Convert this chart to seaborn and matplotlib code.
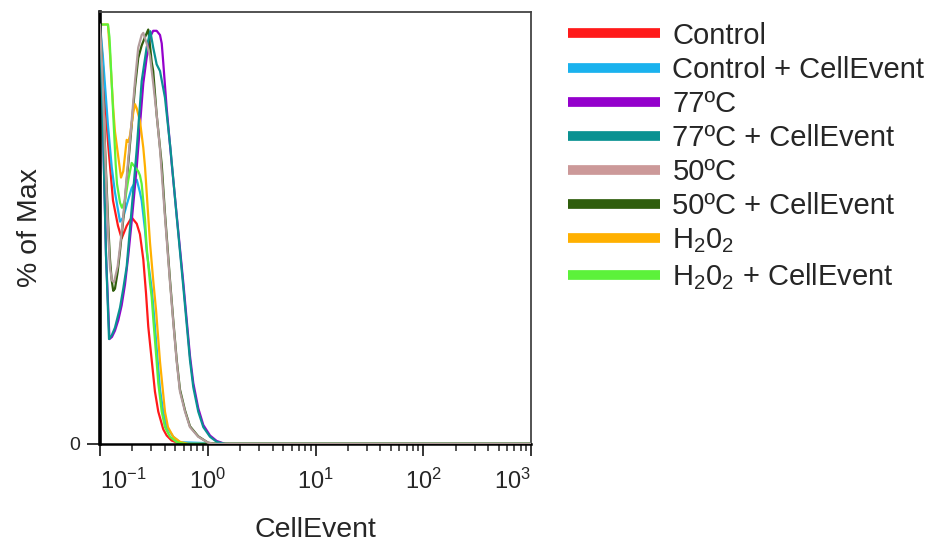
import numpy as np
import pandas as pd
import seaborn as sns
import matplotlib
matplotlib.use("Agg")
import matplotlib.pyplot as plt
import matplotlib.ticker as mticker
from matplotlib.colors import to_hex

sns.set_style("white")
plt.rcParams['font.family'] = ['Liberation Sans', 'DejaVu Sans']
plt.rcParams['mathtext.fontset'] = 'custom'
plt.rcParams['mathtext.rm'] = 'Liberation Sans'
plt.rcParams['mathtext.it'] = 'Liberation Sans:italic'
plt.rcParams['mathtext.default'] = 'regular'

# sample names and colours (legend order)
labels = ["Control", "Control + CellEvent", "77ºC", "77ºC + CellEvent",
          "50ºC", "50ºC + CellEvent", "H$_2$0$_2$", "H$_2$0$_2$ + CellEvent"]
colors = ["#ff1a1a", "#1ab2ee", "#9400cc", "#0a9292",
          "#b39c9c", "#2f5e0c", "#ffb000", "#5cf23a"]
legend_colors = ["#ff1a1a", "#1ab2ee", "#9400cc", "#0a9292",
                 "#cc9999", "#2f5e0c", "#ffb000", "#5cf23a"]

# histograms: log10(CellEvent) and % of max
ctrl_logx = [-1.000, -0.972, -0.926, -0.879, -0.833, -0.799, -0.752, -0.706, -0.659, -0.629,
             -0.598, -0.573, -0.552, -0.520, -0.490, -0.459, -0.413, -0.381, -0.335, -0.273, 0.206, 3.0]
ctrl_y = [100, 90, 72, 58, 52, 49, 52, 54, 52.5, 50,
          44, 36, 28, 20, 12.5, 7.7, 3.5, 2, 0.8, 0.2, 0, 0]

ctrl_ce_logx = [-1.000, -0.972, -0.926, -0.891, -0.861, -0.814, -0.784, -0.752, -0.706, -0.659,
                -0.629, -0.613, -0.582, -0.567, -0.520, -0.506, -0.490, -0.464, -0.443, -0.413,
                -0.381, -0.320, -0.258, 0.206, 3.0]
ctrl_ce_y = [100, 92, 76, 66, 60, 53, 54, 57, 61, 63,
             60, 58, 51, 46, 37, 33, 28, 19.6, 13, 7.7,
             4, 1.7, 0.4, 0, 0]

t77_logx = [-1.000, -0.972, -0.944, -0.912, -0.889, -0.861, -0.830, -0.799, -0.768, -0.737,
            -0.706, -0.659, -0.629, -0.598, -0.567, -0.536, -0.506, -0.474, -0.443, -0.427,
            -0.413, -0.381, -0.335, -0.288, -0.227, -0.165, -0.134, -0.088, -0.041, 0.021,
            0.083, 0.160, 3.0]
t77_y = [100, 75, 45, 25, 25.5, 27, 29.5, 33, 38, 45,
         53, 66, 76, 86, 92, 97, 98.5, 98.5, 97.5, 95.5,
         91, 80, 67, 54.5, 38.5, 21, 14.5, 8.5, 4.5, 2,
         0.7, 0, 0]

t77_ce_logx = [-1.000, -0.972, -0.944, -0.916, -0.889, -0.861, -0.814, -0.784, -0.752, -0.712,
               -0.659, -0.613, -0.567, -0.533, -0.506, -0.474, -0.443, -0.397, -0.346, -0.288,
               -0.227, -0.165, -0.134, -0.088, -0.041, 0.021, 0.083, 0.160, 3.0]
t77_ce_y = [100, 75, 45, 25, 26, 27.7, 32.5, 37, 42.3, 54.2,
            70.2, 86.5, 94.5, 98.4, 94.5, 90.5, 88.9, 82.6, 70.4, 54.2,
            37.5, 20, 13.5, 7.7, 4, 1.7, 0.5, 0, 0]

t50_logx = [-1.000, -0.981, -0.963, -0.954, -0.923, -0.907, -0.889, -0.870, -0.836, -0.814,
            -0.784, -0.737, -0.706, -0.675, -0.645, -0.613, -0.598, -0.567, -0.536, -0.506,
            -0.474, -0.443, -0.397, -0.350, -0.320, -0.288, -0.258, -0.211, -0.165, -0.088,
            0.002, 0.067, 3.0]
t50_y = [100, 90, 78, 70, 50, 42, 39, 38.5, 42.3, 47,
         54.2, 68, 77, 86.5, 94.5, 97.5, 98, 95.5, 92.5, 86,
         78.5, 70.2, 54.2, 38.4, 29, 19.6, 12.5, 7.7, 4, 1.7,
         0.3, 0, 0]

t50_ce_logx = [-1.000, -0.981, -0.963, -0.949, -0.923, -0.907, -0.891, -0.877, -0.861, -0.836,
               -0.814, -0.784, -0.737, -0.706, -0.675, -0.645, -0.613, -0.582, -0.552, -0.536,
               -0.520, -0.506, -0.474, -0.427, -0.397, -0.350, -0.320, -0.288, -0.258, -0.211,
               -0.165, -0.088, 0.002, 0.067, 3.0]
t50_ce_y = [100, 90, 78, 68, 52, 44, 39, 36.5, 37, 41,
            46, 53.5, 67, 76, 85, 92, 95, 97, 98.8, 95,
            91, 88.9, 78.5, 66.6, 55, 39, 29.5, 20, 13, 8,
            4.2, 1.8, 0.3, 0, 0]

h2o2_logx = [-1.000, -0.926, -0.907, -0.891, -0.877, -0.861, -0.833, -0.805, -0.784, -0.752,
             -0.737, -0.722, -0.691, -0.675, -0.659, -0.629, -0.598, -0.582, -0.552, -0.536,
             -0.506, -0.480, -0.443, -0.397, -0.369, -0.320, -0.258, -0.183, 3.0]
h2o2_y = [100, 100, 93, 86, 80, 74.5, 69, 63.5, 65, 72.5,
          72, 73.5, 79, 81, 80, 77, 70.6, 66, 54.2, 48,
          39, 32, 19.6, 7.7, 4, 1.7, 0.5, 0, 0]

h2o2_ce_logx = [-1.000, -0.926, -0.912, -0.907, -0.891, -0.877, -0.854, -0.842, -0.814, -0.796,
                -0.768, -0.737, -0.706, -0.675, -0.645, -0.629, -0.613, -0.582, -0.567, -0.536,
                -0.520, -0.506, -0.474, -0.459, -0.427, -0.397, -0.350, -0.288, -0.211, 3.0]
h2o2_ce_y = [100, 100, 97, 94.5, 86, 78.5, 66.6, 62, 57.5, 56.3,
             58, 63, 67, 66, 65, 64, 62, 53.5, 47, 38.4,
             35, 30, 19.6, 14.5, 7.7, 4, 1.7, 0.4, 0, 0]

series = [(ctrl_logx, ctrl_y), (ctrl_ce_logx, ctrl_ce_y), (t77_logx, t77_y), (t77_ce_logx, t77_ce_y),
          (t50_logx, t50_y), (t50_ce_logx, t50_ce_y), (h2o2_logx, h2o2_y), (h2o2_ce_logx, h2o2_ce_y)]

frames = []
for name, (lx, yy) in zip(labels, series):
    frames.append(pd.DataFrame({"CellEvent": 10 ** np.array(lx), "pct": yy, "sample": name}))
df = pd.concat(frames, ignore_index=True)

fig, ax = plt.subplots(figsize=(9.3, 5.42), dpi=100)
fig.subplots_adjust(left=0.1075, right=0.571, bottom=0.181, top=0.978)

sns.lineplot(data=df, x="CellEvent", y="pct", hue="sample", hue_order=labels,
             palette=colors, estimator=None, sort=False, linewidth=1.6, ax=ax)

# the single stain lines sit on top of their CellEvent partners
for line in ax.lines:
    c = to_hex(line.get_color())
    if c in ("#b39c9c", "#0a9292"):
        line.set_zorder(3)

ax.set_xscale("log")
ax.set_xlim(0.1, 1000)
ax.set_ylim(0, 103)
ax.set_xticks([0.1, 1, 10, 100, 1000])
ax.xaxis.set_major_formatter(mticker.LogFormatterSciNotation())
ax.xaxis.set_minor_locator(mticker.LogLocator(base=10, subs=np.arange(2, 10), numticks=20))
ax.xaxis.set_minor_formatter(mticker.NullFormatter())
ax.set_yticks([0])
ax.set_yticklabels(["0"])

ax.tick_params(axis="x", which="major", direction="out", length=8.5, width=1.3,
               labelsize=17, pad=9, bottom=True)
ax.tick_params(axis="x", which="minor", direction="out", length=5, width=1.1, bottom=True)
ax.tick_params(axis="y", direction="out", length=9.5, width=1.3, labelsize=14, pad=5, left=True)

xt = ax.get_xticklabels()
xt[0].set_ha("left")
xt[-1].set_ha("right")

ax.set_xlabel("CellEvent", fontsize=20.5, labelpad=17)
ax.set_ylabel("% of Max", fontsize=20.5, labelpad=19)

ax.spines["left"].set_linewidth(2.6)
ax.spines["left"].set_color("black")
ax.spines["bottom"].set_linewidth(1.8)
ax.spines["bottom"].set_color("black")
for s in ["top", "right"]:
    ax.spines[s].set_linewidth(1.3)
    ax.spines[s].set_color("#444444")

sns.move_legend(ax, "upper left", bbox_to_anchor=(0.611, 0.96), bbox_transform=fig.transFigure,
                frameon=False, title=None, fontsize=21, handlelength=3.15, handletextpad=0.42,
                labelspacing=0.21, borderpad=0, borderaxespad=0)
for line, c in zip(ax.get_legend().get_lines(), legend_colors):
    line.set_linewidth(7)
    line.set_color(c)
    line.set_solid_capstyle("butt")

fig.savefig("out.png", dpi=100)
